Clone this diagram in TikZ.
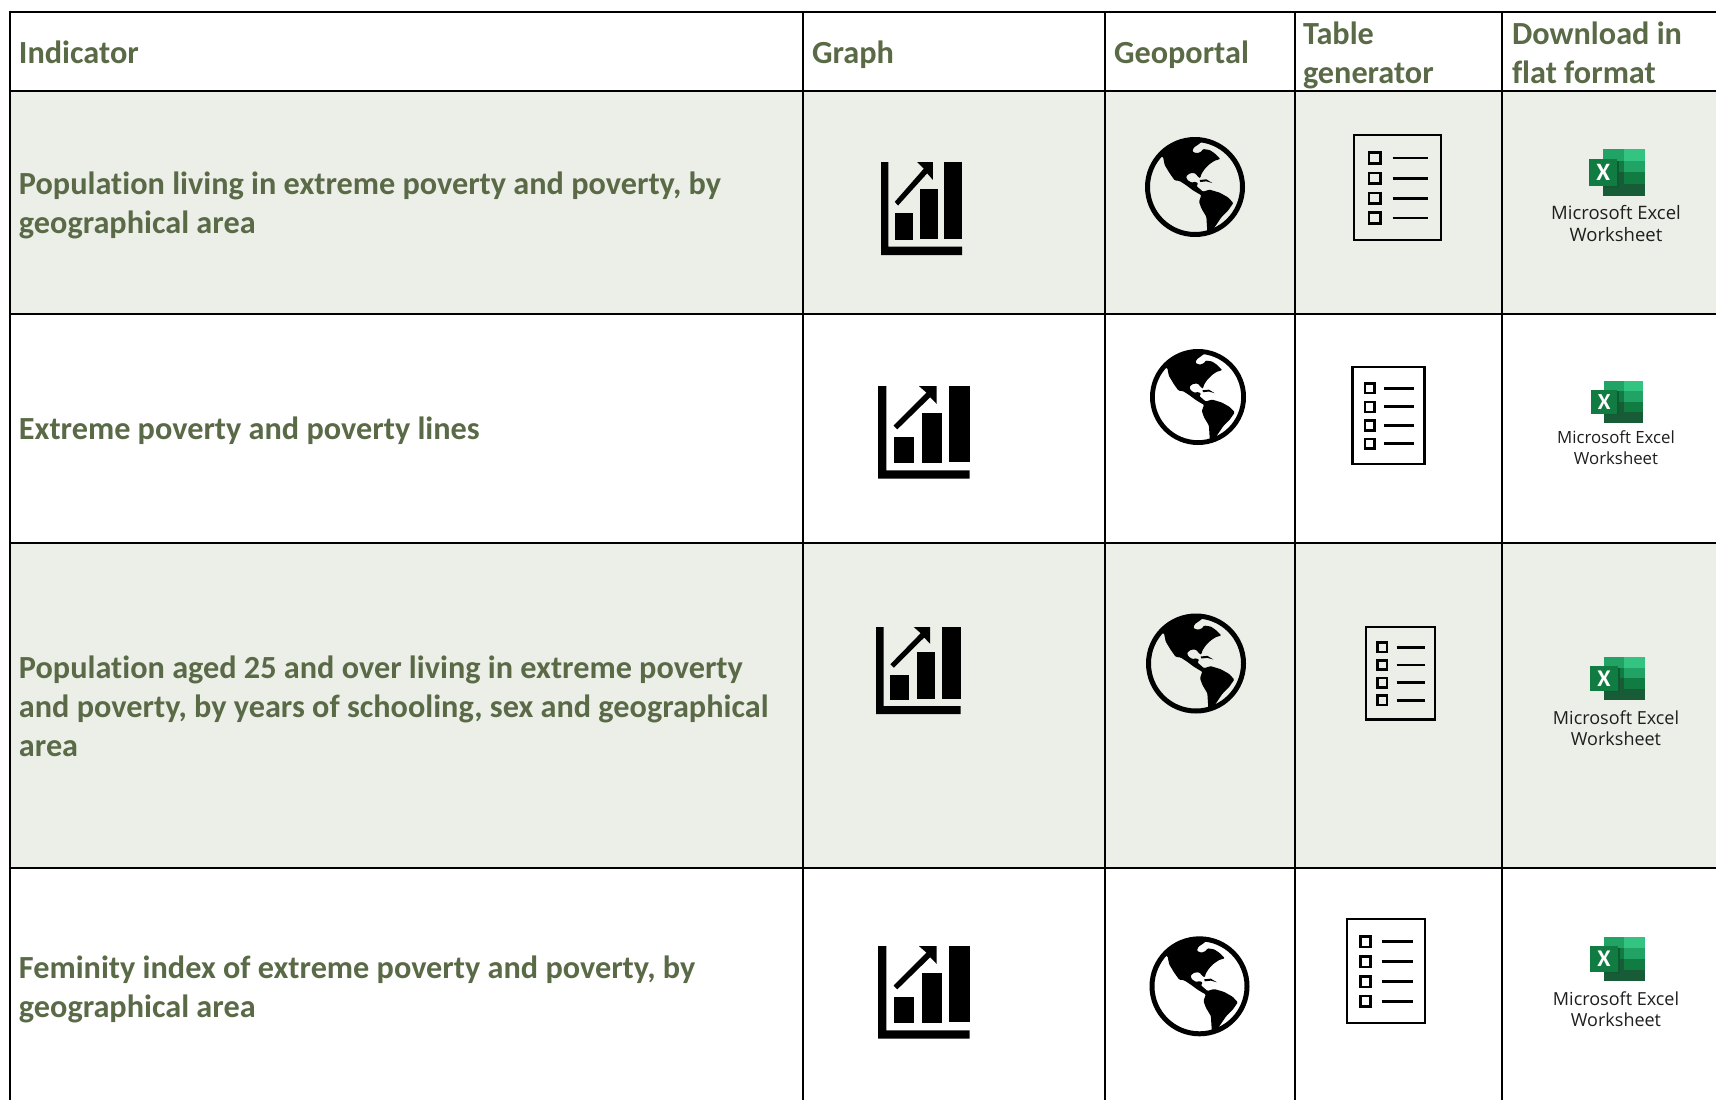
\documentclass[tikz,border=0pt]{standalone}
\usepackage{fontspec}
\setmainfont{Carlito}[Ligatures=NoCommon]
\newfontfamily\lblfont{Open Sans}
\definecolor{rowfill}{HTML}{ECEFE8}
\definecolor{headtxt}{HTML}{5A6A47}
\definecolor{lbltxt}{HTML}{1E1E1E}
\definecolor{xa}{HTML}{33C481}
\definecolor{xb}{HTML}{21A366}
\definecolor{xc}{HTML}{107C41}
\definecolor{xd}{HTML}{185C37}
\definecolor{xshadow}{HTML}{0F5A30}
\tikzset{
  rule/.style={line width=2.2pt,line cap=rect},
  cell/.style={anchor=base west,inner sep=0pt,outer sep=0pt,text=headtxt,font=\bfseries\fontsize{32.25}{36}\selectfont},
  lbl/.style={anchor=center,inner sep=0pt,outer sep=0pt,text=lbltxt},
  listline/.style={line width=2.4pt},
  listbox/.style={draw=black,line width=2.4pt,fill=none},
}
% corners x0 y0 x1 y1
\newcommand{\graphicon}[4]{%
\begin{scope}[shift={(#1,#2)},xscale={(#3-#1)/242},yscale={(#4-#2)/280},shift={(-124,-186)}]
\fill (124,186) -- (146,186) -- (146,441) -- (366,441) -- (366,466) -- (124,466) -- cycle;
\fill (165,339) rectangle (219,420);
\fill (240,267) rectangle (293,418);
\fill (312,186) rectangle (366,417);
\fill (165,306) -- (252,206) -- (232,186) -- (279,186) -- (279,240) -- (262,220) -- (175,317) -- cycle;
\end{scope}}
% centre x y, radius
\newcommand{\globeicon}[3]{%
\begin{scope}[shift={(#1,#2)},scale={#3/150},shift={(-1066,-261)}]
\fill[even odd rule] (1066,261) circle[radius=150] (1066,261) circle[radius=135];
\fill[rounded corners=1pt] (962,170) -- (970,170) -- (975,195) -- (990,220) -- (1005,241) -- (1020,243) -- (1040,256) -- (1060,271) -- (1080,283) -- (1085,285)
 -- (1078,305) -- (1085,325) -- (1100,350) -- (1103,396) -- (1118,392) -- (1145,352) -- (1165,332) -- (1181,309) -- (1165,292) -- (1140,278) -- (1110,269) -- (1090,275)
 -- (1075,262) -- (1070,258) -- (1076,250) -- (1066,245) -- (1056,248) -- (1043,240) -- (1039,229) -- (1050,220) -- (1065,219) -- (1078,233) -- (1082,234) -- (1085,222) -- (1095,207) -- (1110,192) -- (1125,182) -- (1142,177)
 -- (1125,160) -- (1110,150) -- (1090,147) -- (1085,155) -- (1072,160) -- (1058,155) -- (1062,143) -- (1078,132) -- (1090,122) -- (1060,118) -- (1010,130) -- cycle;
\fill (1080,240) -- (1100,238) -- (1118,249) -- (1100,244) -- (1082,246) -- cycle;
\end{scope}}
\newcommand{\listicon}[4]{%
\begin{scope}[shift={(#1,#2)},xscale={(#3-#1)/267},yscale={(#4-#2)/322},shift={(-160,-102)}]
\draw[listbox] (163,105) rectangle (424,421);
\foreach \yy in {174,235,295,355}{
  \draw[listline,line width=2.6pt] (208,\yy-16) rectangle (242,\yy+16);
  \draw[listline,line width=2.8pt] (279,\yy) -- (384,\yy);
}
\end{scope}}
% corners, X size
\newcommand{\excelicon}[5]{%
\begin{scope}[shift={(#1,#2)},xscale={(#3-#1)/168},yscale={(#4-#2)/141},shift={(-27,-27)}]
\fill[xb] (70,27) rectangle (132,62);
\fill[xa] (132,27) rectangle (195,62);
\fill[xc] (70,62) rectangle (132,97);
\fill[xb] (132,62) rectangle (195,97);
\fill[xd] (70,97) rectangle (132,132);
\fill[xc] (132,97) rectangle (195,132);
\fill[xd] (70,132) rectangle (195,168);
\fill[xshadow] (70,62) rectangle (118,143);
\fill[xc] (27,57) rectangle (112,138);
\node[inner sep=0pt,text=white,font=\bfseries\fontsize{#5}{#5}\selectfont] (#1x#2) at (69.5,97.5) {X};
\end{scope}}
\begin{document}
\begin{tikzpicture}[x=1pt,y=-1pt]
\useasboundingbox (0,0) rectangle (1716,1100);
\fill[white] (0,0) rectangle (1716,1100);
\fill[rowfill] (10,91) rectangle (1716,314);
\fill[rowfill] (10,543) rectangle (1716,868);
% rules
\foreach \xx in {10,803,1105,1295,1502}{\draw[rule] (\xx,12) -- (\xx,1102);}
\foreach \yy in {12,91,314,543,868}{\draw[rule] (10,\yy) -- (1718,\yy);}
% headers
\node[cell] (hInd) at (19,63) {Indicator};
\node[cell] (hGraph) at (812,63) {Graph};
\node[cell] (hGeo) at (1114,63) {Geoportal};
\node[cell] (hTab1) at (1303,44) {Table};
\node[cell] (hTab2) at (1303,83) {generator};
\node[cell] (hDl1) at (1512,44) {Download in};
\node[cell] (hDl2) at (1512,83) {flat format};
% row texts
\node[cell] (r1a) at (19,194) {Population living in extreme poverty and poverty, by};
\node[cell] (r1b) at (19,233) {geographical area};
\node[cell] (r2a) at (19,439) {Extreme poverty and poverty lines};
\node[cell] (r3a) at (19,678) {Population aged 25 and over living in extreme poverty};
\node[cell] (r3b) at (19,717) {and poverty, by years of schooling, sex and geographical};
\node[cell] (r3c) at (19,756) {area};
\node[cell] (r4a) at (19,978) {Feminity index of extreme poverty and poverty, by};
\node[cell] (r4b) at (19,1017) {geographical area};
% icons
\graphicon{881}{162}{962}{255}
\graphicon{878}{386}{969.5}{478.7}
\graphicon{876}{627}{960.5}{714}
\graphicon{878}{946}{969.5}{1038.7}
\globeicon{1195}{187}{50}
\globeicon{1198}{397}{48}
\globeicon{1196}{663.5}{50}
\globeicon{1199.5}{986.3}{50}
\listicon{1353}{134}{1442}{241}
\listicon{1351.5}{366}{1425.5}{465}
\listicon{1365}{626}{1436}{720.5}
\listicon{1346}{918}{1426}{1024}
\excelicon{1589}{149}{1645}{196}{25}
\excelicon{1591}{381}{1643}{422.5}{23}
\excelicon{1590}{657}{1645}{700}{24}
\excelicon{1590}{937}{1645}{981}{24}
\node[lbl,font=\lblfont\fontsize{18.5}{18.5}\selectfont] (x1a) at (1616,213) {Microsoft Excel};
\node[lbl,font=\lblfont\fontsize{18.5}{18.5}\selectfont] (x1b) at (1616,235) {Worksheet};
\node[lbl,font=\lblfont\fontsize{16.8}{16.8}\selectfont] (x2a) at (1616,437) {Microsoft Excel};
\node[lbl,font=\lblfont\fontsize{16.8}{16.8}\selectfont] (x2b) at (1616,458) {Worksheet};
\node[lbl,font=\lblfont\fontsize{18}{18}\selectfont] (x3a) at (1616,718) {Microsoft Excel};
\node[lbl,font=\lblfont\fontsize{18}{18}\selectfont] (x3b) at (1616,739) {Worksheet};
\node[lbl,font=\lblfont\fontsize{18}{18}\selectfont] (x4a) at (1616,999) {Microsoft Excel};
\node[lbl,font=\lblfont\fontsize{18}{18}\selectfont] (x4b) at (1616,1020) {Worksheet};
\end{tikzpicture}
\end{document}
